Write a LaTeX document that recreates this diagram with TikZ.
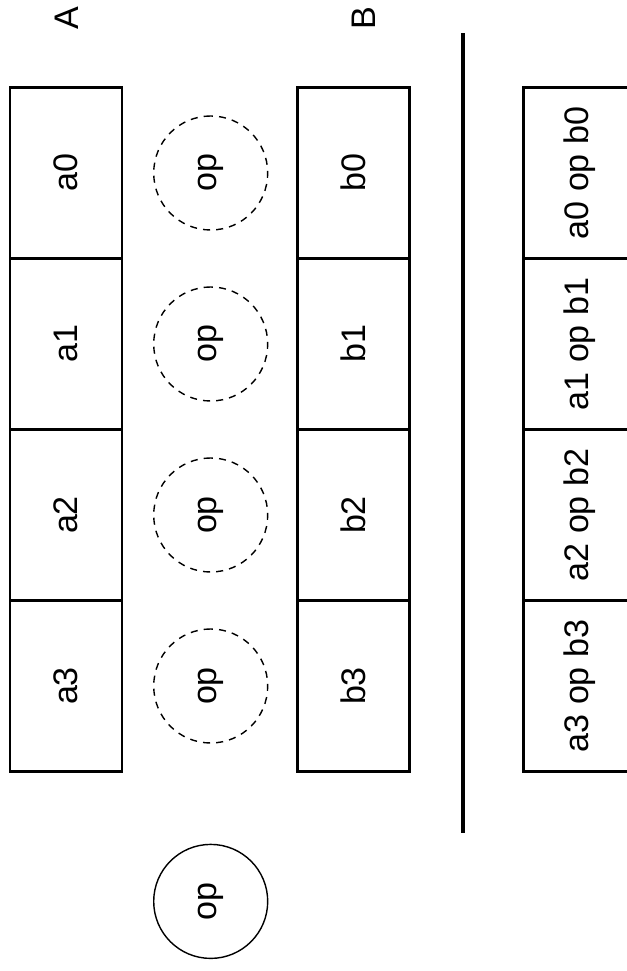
\documentclass[tikz,border=0pt]{standalone}
\usepackage{fontspec}
\setmainfont{Liberation Sans}
\usetikzlibrary{positioning}
\newcommand{\lanefont}{\fontsize{19.4}{23}\selectfont}
\tikzset{
  cell/.style={rectangle, draw=black, line width=1.4pt,
    minimum width=3.42cm, minimum height=2.24cm,
    inner sep=0pt, outer sep=0pt, font=\lanefont},
  opring/.style={circle, draw=black, line width=0.8pt,
    dash pattern=on 4pt off 3.5pt, minimum size=2.28cm,
    inner sep=0pt, font=\lanefont},
  opsolid/.style={circle, draw=black, line width=0.8pt,
    minimum size=2.28cm, inner sep=0pt, font=\lanefont},
  veclabel/.style={font=\lanefont, inner sep=0pt},
  divider/.style={line width=1.9pt, color=black}
}

\begin{document}
\begin{tikzpicture}[rotate=90, transform shape]
\useasboundingbox (0,0) rectangle (19.42,-12.54);
% vector A
\node[cell] (a3) at (5.7,-1.32) {a3};
\node[cell, right=0pt of a3] (a2) {a2};
\node[cell, right=0pt of a2] (a1) {a1};
\node[cell, right=0pt of a1] (a0) {a0};
\node[veclabel] (labA) at (19.06,-1.34) {A};

% the op of each lane
\node[opring, below=0.62cm of a3] (op3) {op};
\node[opring, below=0.62cm of a2] (op2) {op};
\node[opring, below=0.62cm of a1] (op1) {op};
\node[opring, below=0.62cm of a0] (op0) {op};
\node[opsolid, left=2cm of op3] (op) {op};

% vector B
\node[cell, below=0.58cm of op3] (b3) {b3};
\node[cell, right=0pt of b3] (b2) {b2};
\node[cell, right=0pt of b2] (b1) {b1};
\node[cell, right=0pt of b1] (b0) {b0};
\node[veclabel] (labB) at (19.06,-7.28) {B};

\coordinate (bar0) at (2.76,-9.26);
\coordinate (bar1) at (18.76,-9.26);
\draw[divider] (bar0) -- (bar1);

% result
\node[cell, below=2.28cm of b3] (r3) {a3 op b3};
\node[cell, right=0pt of r3] (r2) {a2 op b2};
\node[cell, right=0pt of r2] (r1) {a1 op b1};
\node[cell, right=0pt of r1] (r0) {a0 op b0};
\end{tikzpicture}
\end{document}
